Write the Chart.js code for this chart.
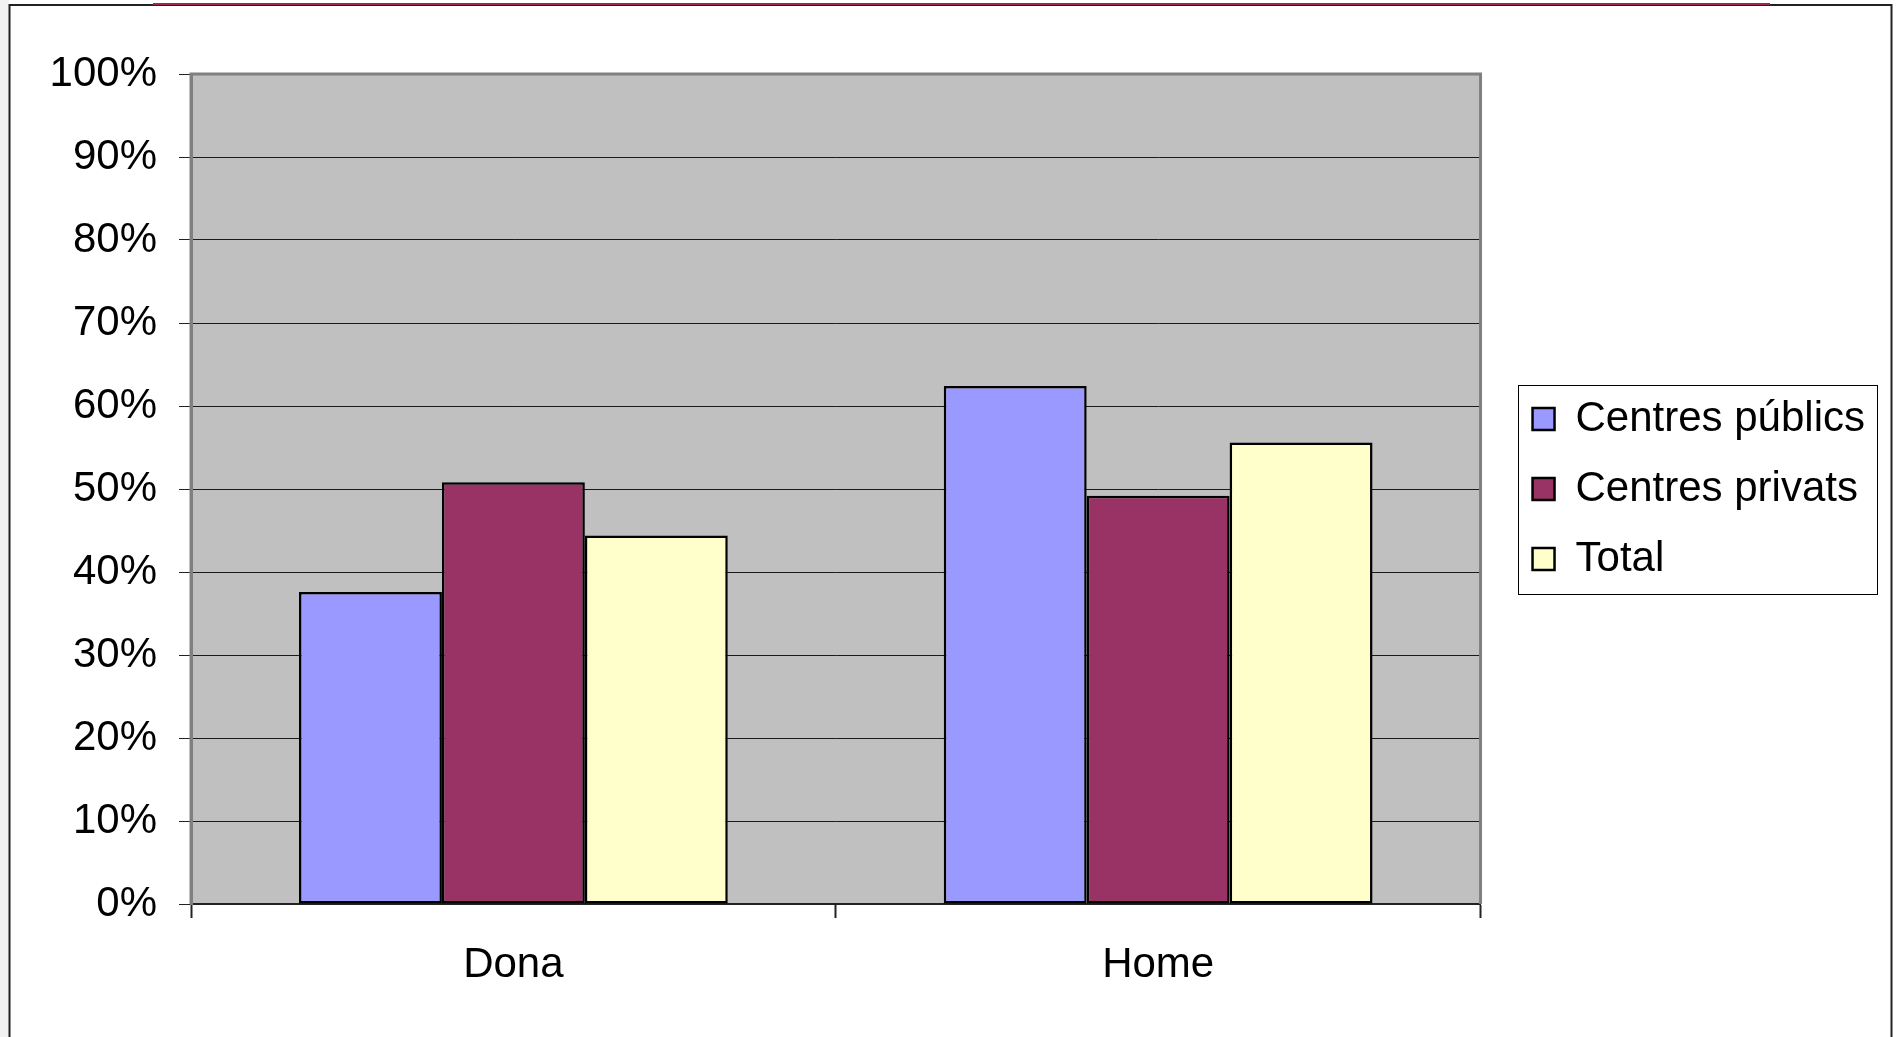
<!DOCTYPE html>
<html>
<head>
<meta charset="utf-8">
<script src="https://cdn.jsdelivr.net/npm/chart.js@4/dist/chart.umd.min.js"></script>
<style>
  html, body { margin: 0; padding: 0; background: #ffffff; }
  #wrap { width: 1896px; height: 1037px; position: relative; }
</style>
</head>
<body>
<div id="wrap"><canvas id="c" width="1896" height="1037"></canvas></div>
<script>
const categories = ['Dona', 'Home'];
const seriesNames = ['Centres públics', 'Centres privats', 'Total'];
const publics = [37.6, 62.4];
const privats = [50.8, 49.2];
const total = [44.4, 55.6];
const yTicks = [0, 10, 20, 30, 40, 50, 60, 70, 80, 90, 100];

const colors = ['#9999ff', '#993366', '#ffffcc'];
const FONT = "'Liberation Sans', Arial, sans-serif";

const decor = {
  id: 'decor',
  beforeDraw(chart) {
    const c = chart.ctx, a = chart.chartArea;
    c.save();
    c.fillStyle = '#f2f2f2';
    c.fillRect(0, 0, 9, chart.height);
    c.fillStyle = '#c0c0c0';
    c.fillRect(a.left, a.top, a.right - a.left, a.bottom - a.top);
    c.restore();
  },
  beforeDatasetsDraw(chart) {
    const c = chart.ctx, a = chart.chartArea;
    c.save();
    c.strokeStyle = '#808080';
    c.lineWidth = 3;
    c.beginPath();
    c.moveTo(a.left, a.bottom);
    c.lineTo(a.left, a.top);
    c.lineTo(a.right, a.top);
    c.lineTo(a.right, a.bottom);
    c.stroke();
    c.restore();
  },
  afterDraw(chart) {
    const c = chart.ctx;
    c.save();
    c.strokeStyle = '#222222';
    c.lineWidth = 2;
    c.beginPath();
    c.moveTo(9.5, chart.height + 5);
    c.lineTo(9.5, 5);
    c.lineTo(1891.5, 5);
    c.lineTo(1891.5, chart.height + 5);
    c.stroke();
    c.strokeStyle = '#9a2a48';
    c.lineWidth = 2;
    c.beginPath();
    c.moveTo(153, 4);
    c.lineTo(1770, 4);
    c.stroke();
    const lg = chart.legend;
    if (lg && lg.legendHitBoxes && lg.legendHitBoxes.length) {
      const hb = lg.legendHitBoxes;
      const first = hb[0], last = hb[hb.length - 1];
      let maxRight = 0;
      hb.forEach(h => { maxRight = Math.max(maxRight, h.left + h.width); });
      const x0 = Math.round(first.left) - 14.5;
      const y0 = Math.round(first.top) - 12.5;
      const x1 = Math.round(maxRight) + 12.5;
      const y1 = Math.round(last.top + last.height) + 14.5;
      c.strokeStyle = '#000000';
      c.lineWidth = 1;
      c.strokeRect(x0, y0, x1 - x0, y1 - y0);
    }
    c.restore();
  }
};

new Chart(document.getElementById('c'), {
  type: 'bar',
  data: {
    labels: categories,
    datasets: [
      { label: seriesNames[0], data: publics, backgroundColor: colors[0] },
      { label: seriesNames[1], data: privats, backgroundColor: colors[1] },
      { label: seriesNames[2], data: total, backgroundColor: colors[2] }
    ].map(d => Object.assign(d, {
      borderColor: '#000000',
      borderWidth: 2.5,
      borderSkipped: false,
      barPercentage: 1,
      categoryPercentage: 0.665
    }))
  },
  options: {
    responsive: false,
    animation: false,
    devicePixelRatio: 1,
    layout: { padding: { top: 74, left: 0, right: 21, bottom: 0 } },
    plugins: {
      tooltip: { enabled: false },
      legend: {
        position: 'right',
        fullSize: false,
        align: 'center',
        maxWidth: 420,
        labels: {
          font: { family: FONT, size: 42 },
          color: '#000000',
          boxWidth: 22,
          boxHeight: 22,
          padding: 28
        }
      }
    },
    scales: {
      x: {
        grid: {
          display: true,
          drawOnChartArea: false,
          drawTicks: true,
          tickLength: 14,
          tickColor: '#222222',
          tickWidth: 2,
          offset: true
        },
        border: { display: true, color: '#222222', width: 2 },
        ticks: {
          font: { family: FONT, size: 42 },
          color: '#000000',
          padding: 22
        },
        afterFit(s) { s.height = 133; }
      },
      y: {
        min: 0,
        max: 100,
        afterBuildTicks(s) { s.ticks = yTicks.map(v => ({ value: v })); },
        grid: {
          color: (ctx) => (ctx.tick && ctx.tick.value === 100) ? '#808080' : '#1a1a1a',
          lineWidth: 1,
          tickLength: 12,
          tickColor: '#222222',
          drawTicks: true
        },
        border: { display: true, color: '#808080', width: 3 },
        ticks: {
          font: { family: FONT, size: 42 },
          color: '#000000',
          padding: 22,
          callback: (v) => v + '%'
        },
        afterFit(s) { s.width = 191; }
      },
      spacer: {
        type: 'linear',
        position: 'right',
        display: true,
        grid: { display: false },
        border: { display: false },
        ticks: { display: false },
        afterFit(s) { s.width = 24; }
      }
    }
  },
  plugins: [decor]
});
</script>
</body>
</html>
